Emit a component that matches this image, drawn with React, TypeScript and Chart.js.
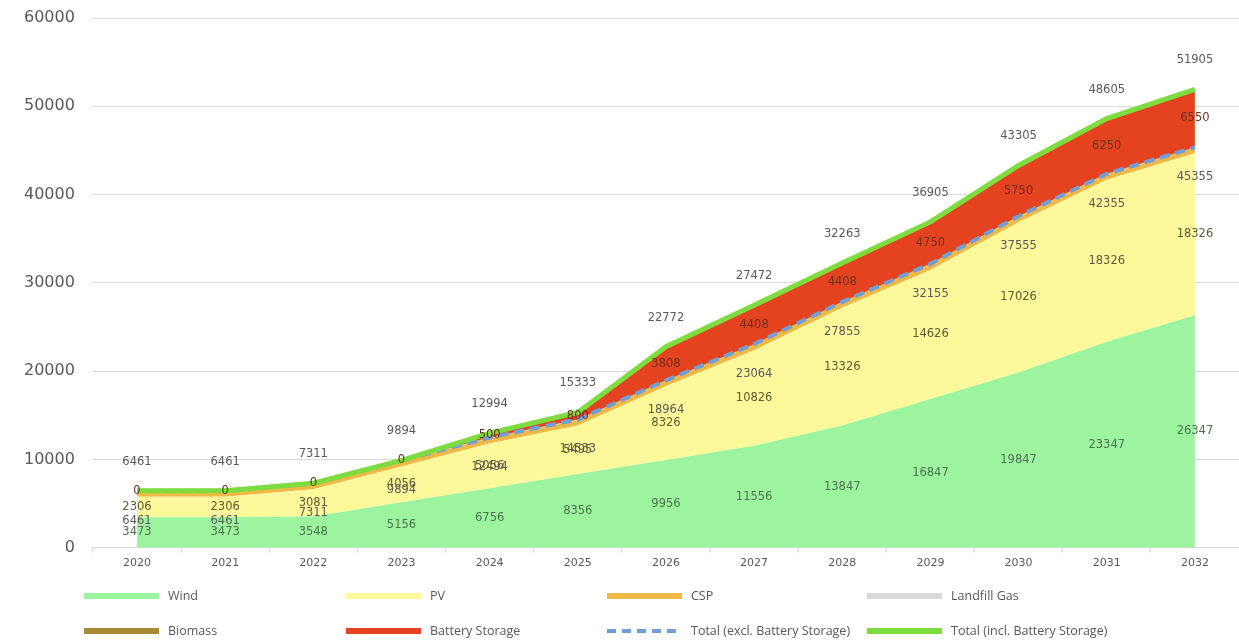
import React, { useEffect, useRef } from "react";
import { Chart, registerables } from "chart.js";

Chart.register(...registerables);

const years = ["2020", "2021", "2022", "2023", "2024", "2025", "2026", "2027", "2028", "2029", "2030", "2031", "2032"];
const wind = [3473, 3473, 3548, 5156, 6756, 8356, 9956, 11556, 13847, 16847, 19847, 23347, 26347];
const pv = [2306, 2306, 3081, 4056, 5056, 5495, 8326, 10826, 13326, 14626, 17026, 18326, 18326];
const csp = [600, 600, 600, 600, 600, 600, 600, 600, 600, 600, 600, 600, 600];
const landfillGas = [18, 18, 18, 18, 18, 18, 18, 18, 18, 18, 18, 18, 18];
const biomass = [64, 64, 64, 64, 64, 64, 64, 64, 64, 64, 64, 64, 64];
const battery = [0, 0, 0, 0, 500, 800, 3808, 4408, 4408, 4750, 5750, 6250, 6550];
const totalExcl = [6461, 6461, 7311, 9894, 12494, 14533, 18964, 23064, 27855, 32155, 37555, 42355, 45355];
const totalIncl = [6461, 6461, 7311, 9894, 12994, 15333, 22772, 27472, 32263, 36905, 43305, 48605, 51905];
const yTicks = [0, 10000, 20000, 30000, 40000, 50000, 60000];

const NUMFONT = "'DejaVu Sans', sans-serif";
const TXTFONT = "'Open Sans', 'DejaVu Sans', sans-serif";

const C = {
  wind: "#9cf59e",
  pv: "#fdf99b",
  csp: "#f0b844",
  landfill: "#d9d9d9",
  biomass: "#a98a33",
  battery: "#e5421f",
  excl: "#6f9fd6",
  incl: "#7ddc3f",
};

const legendItems = [
  { label: "Wind", color: C.wind, dash: false, col: 0, row: 0 },
  { label: "PV", color: C.pv, dash: false, col: 1, row: 0 },
  { label: "CSP", color: C.csp, dash: false, col: 2, row: 0 },
  { label: "Landfill Gas", color: C.landfill, dash: false, col: 3, row: 0 },
  { label: "Biomass", color: C.biomass, dash: false, col: 0, row: 1 },
  { label: "Battery Storage", color: C.battery, dash: false, col: 1, row: 1 },
  { label: "Total (excl. Battery Storage)", color: C.excl, dash: true, col: 2, row: 1 },
  { label: "Total (incl. Battery Storage)", color: C.incl, dash: false, col: 3, row: 1 },
];

const legendCols = [84, 346, 607, 867];
const legendRows = [596, 631];

const labelPlugin = {
  id: "valueLabels",
  afterDatasetsDraw(chart: any) {
    const ctx = chart.ctx;
    const xs = chart.scales.x;
    const ys = chart.scales.y;
    ctx.save();
    ctx.font = `11.5px ${NUMFONT}`;
    ctx.textAlign = "center";
    ctx.textBaseline = "middle";
    years.forEach((_, i) => {
      const x = xs.getPixelForValue(i);
      ctx.fillStyle = "#4d7152";
      ctx.fillText(String(wind[i]), x, ys.getPixelForValue(wind[i] / 2));
      ctx.fillStyle = "#5e5a34";
      ctx.fillText(String(pv[i]), x, ys.getPixelForValue(wind[i] + pv[i] / 2));
      ctx.fillStyle = "#6a3322";
      ctx.fillText(String(battery[i]), x, ys.getPixelForValue(totalExcl[i] + battery[i] / 2));
      ctx.fillStyle = "#595959";
      ctx.fillText(String(totalExcl[i]), x, ys.getPixelForValue(totalExcl[i]) + 30);
      ctx.fillText(String(totalIncl[i]), x, ys.getPixelForValue(totalIncl[i]) - 29);
    });
    ctx.restore();
  },
};

const legendPlugin = {
  id: "customLegend",
  afterDraw(chart: any) {
    const ctx = chart.ctx;
    ctx.save();
    ctx.font = `12.5px ${TXTFONT}`;
    ctx.textBaseline = "middle";
    ctx.textAlign = "left";
    legendItems.forEach((it) => {
      const x = legendCols[it.col];
      const y = legendRows[it.row];
      ctx.beginPath();
      ctx.strokeStyle = it.color;
      ctx.lineWidth = it.dash ? 4 : 6;
      ctx.setLineDash(it.dash ? [9, 6] : []);
      ctx.moveTo(x, y);
      ctx.lineTo(x + 75, y);
      ctx.stroke();
      ctx.setLineDash([]);
      ctx.fillStyle = "#595959";
      ctx.fillText(it.label, x + 84, y);
    });
    ctx.restore();
  },
};

export default function App() {
  const ref = useRef<HTMLCanvasElement | null>(null);

  useEffect(() => {
    document.body.style.margin = "0";
    if (!ref.current) return;
    const area = (label: string, data: number[], color: string, fill: any) => ({
      label,
      data,
      backgroundColor: color,
      borderColor: color,
      borderWidth: 0,
      pointRadius: 0,
      fill,
      stack: "areas",
      order: 2,
      tension: 0,
    });
    const chart = new Chart(ref.current, {
      type: "line",
      data: {
        labels: years,
        datasets: [
          area("Wind", wind, C.wind, "origin"),
          area("PV", pv, C.pv, "-1"),
          area("CSP", csp, C.csp, "-1"),
          area("Landfill Gas", landfillGas, C.landfill, "-1"),
          area("Biomass", biomass, C.biomass, "-1"),
          area("Battery Storage", battery, C.battery, "-1"),
          {
            label: "Total (excl. Battery Storage)",
            data: totalExcl,
            borderColor: C.excl,
            backgroundColor: C.excl,
            borderWidth: 4,
            borderDash: [10, 6],
            pointRadius: 0,
            fill: false,
            stack: "excl",
            order: 1,
          },
          {
            label: "Total (incl. Battery Storage)",
            data: totalIncl,
            borderColor: C.incl,
            backgroundColor: C.incl,
            borderWidth: 5,
            pointRadius: 0,
            fill: false,
            stack: "incl",
            order: 0,
          },
        ],
      },
      options: {
        animation: false,
        responsive: true,
        maintainAspectRatio: false,
        layout: { padding: { left: 6, right: 0, top: 18, bottom: 67 } },
        plugins: {
          legend: { display: false },
          tooltip: { enabled: false },
        },
        scales: {
          x: {
            offset: true,
            grid: {
              display: true,
              drawOnChartArea: false,
              offset: true,
              tickLength: 5,
              color: "#d9d9d9",
            },
            border: { display: true, color: "#d9d9d9" },
            ticks: { color: "#595959", font: { size: 11, family: NUMFONT }, padding: 4 },
          },
          y: {
            stacked: true,
            min: 0,
            max: 60000,
            afterBuildTicks: (axis: any) => {
              axis.ticks = yTicks.map((v) => ({ value: v }));
            },
            afterFit: (axis: any) => {
              axis.paddingTop = 0;
              axis.paddingBottom = 0;
            },
            grid: { color: "#d9d9d9", drawTicks: false, lineWidth: 1 },
            border: { display: false },
            ticks: {
              color: "#595959",
              font: { size: 16, family: NUMFONT },
              padding: 18,
              callback: (v: any) => String(v),
            },
          },
        },
      },
      plugins: [labelPlugin, legendPlugin],
    });
    return () => chart.destroy();
  }, []);

  return (
    <div style={{ width: 1239, height: 641, position: "relative" }}>
      <canvas ref={ref} />
    </div>
  );
}
